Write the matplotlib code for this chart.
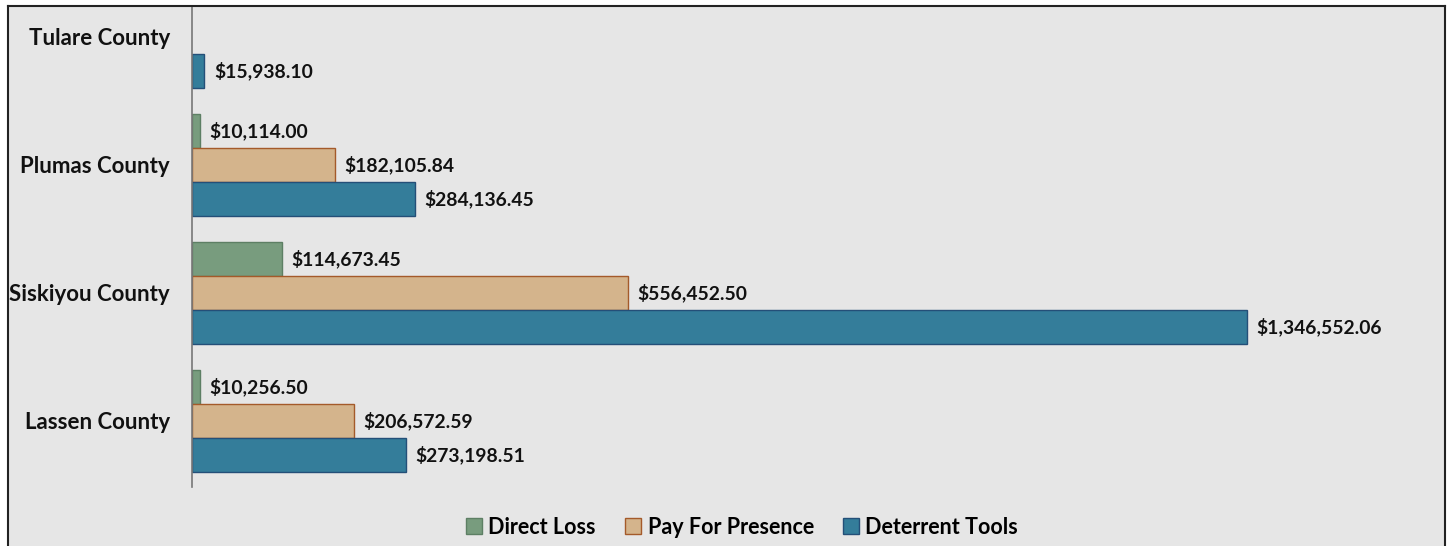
import matplotlib
matplotlib.use("Agg")
import matplotlib.pyplot as plt
from matplotlib.patches import Rectangle, Patch
from matplotlib.lines import Line2D
import numpy as np

# data (bottom to top)
counties = ["Lassen County", "Siskiyou County", "Plumas County", "Tulare County"]
direct_loss = [10256.50, 114673.45, 10114.00, 0]
pay_for_presence = [206572.59, 556452.50, 182105.84, 0]
deterrent_tools = [273198.51, 1346552.06, 284136.45, 15938.10]
series_names = ["Direct Loss", "Pay For Presence", "Deterrent Tools"]

face = ["#789c7e", "#d4b48c", "#347d9a"]
edge = ["#5d7f64", "#a45a2a", "#244f78"]

plt.rcParams["font.family"] = ["Lato", "DejaVu Sans"]
plt.rcParams["font.weight"] = "bold"

W, H = 1449, 546
fig = plt.figure(figsize=(W / 100, H / 100), dpi=100, facecolor="white")

# grey chart frame (bottom is cropped off)
fig.patches.append(Rectangle((8 / W, 0), (1445 - 8) / W, (H - 6) / H,
                             transform=fig.transFigure, facecolor="#e6e6e6",
                             edgecolor="none", zorder=-5))
for xs, ys in [([8, 8], [0, H - 6]), ([8, 1445], [H - 6, H - 6]), ([1445, 1445], [0, H - 6])]:
    fig.lines.append(Line2D(np.array(xs) / W, np.array(ys) / H, transform=fig.transFigure,
                            color="#222222", lw=1.5, zorder=10))

ax = fig.add_axes([192 / W, 59 / H, (1445 - 192) / W, (H - 6 - 59) / H])
ax.set_facecolor("none")
ax.set_zorder(5)

y = np.arange(len(counties))
h = 0.266
offsets = [h, 0, -h]
data = [direct_loss, pay_for_presence, deterrent_tools]
for vals, off, fc, ec in zip(data, offsets, face, edge):
    for yi, v in zip(y, vals):
        if v <= 0:
            continue
        ax.barh(yi + off, v, height=h, color=fc, edgecolor=ec, linewidth=1.0, zorder=2)
        ax.text(v + 12000, yi + off, "${:,.2f}".format(v), va="center", ha="left",
                fontsize=13.9, fontweight="bold", color="#111111")

ax.set_xlim(0, 1600000)
ax.set_ylim(-0.516, 3.242)
ax.set_yticks(y)
ax.set_yticklabels(counties, fontsize=16, fontweight="bold", color="#111111")
ax.tick_params(axis="y", length=0, pad=16)
ax.set_xticks([])
for s in ["top", "right", "bottom"]:
    ax.spines[s].set_visible(False)
ax.spines["left"].set_color("#777777")
ax.spines["left"].set_linewidth(1.2)

handles = [Patch(facecolor=fc, edgecolor=ec, label=n) for n, fc, ec in zip(series_names, face, edge)]
leg = fig.legend(handles=handles, loc="center", bbox_to_anchor=(742 / W, 1 - 527 / H), ncol=3,
                 frameon=False, fontsize=15.5, handlelength=0.75, handleheight=0.75,
                 handletextpad=0.3, columnspacing=1.35)
leg.set_zorder(6)

fig.savefig("out.png", dpi=100, facecolor="white")
